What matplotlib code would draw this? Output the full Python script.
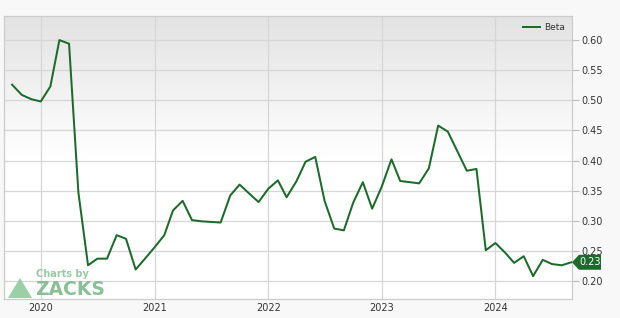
import matplotlib
matplotlib.use("Agg")
import matplotlib.pyplot as plt
import matplotlib.dates as mdates
from matplotlib.colors import LinearSegmentedColormap
from matplotlib.patches import Polygon
import numpy as np
import pandas as pd

# monthly beta values, Oct 2019 .. Sep 2024
start_month = "2019-10-01"
beta = [0.526, 0.509, 0.502, 0.498, 0.523, 0.600, 0.594, 0.347, 0.226, 0.237,
        0.237, 0.276, 0.270, 0.219, 0.237, 0.256, 0.276, 0.317, 0.333, 0.301,
        0.299, 0.298, 0.297, 0.342, 0.360, 0.345, 0.331, 0.353, 0.367, 0.339,
        0.365, 0.398, 0.406, 0.333, 0.287, 0.284, 0.330, 0.364, 0.320, 0.357,
        0.402, 0.366, 0.364, 0.362, 0.387, 0.458, 0.448, 0.415, 0.383, 0.386,
        0.251, 0.263, 0.247, 0.230, 0.241, 0.208, 0.235, 0.228, 0.226, 0.231]
last_label = "0.23"
yticks = [0.20, 0.25, 0.30, 0.35, 0.40, 0.45, 0.50, 0.55, 0.60]

dates = pd.date_range(start_month, periods=len(beta), freq="MS")

green = "#1d6b2a"
W, H = 620, 318

fig = plt.figure(figsize=(W / 100, H / 100), dpi=100, facecolor="#f8f8f8")
ax = fig.add_axes([4 / W, 1 - 299 / H, (572 - 4) / W, (299 - 16) / H])

# background gradient of the plot area
cmap = LinearSegmentedColormap.from_list("bg", ["#ffffff", "#ffffff", "#e3e3e3"])
grad = np.linspace(0, 1, 256).reshape(-1, 1)
ax.imshow(grad, extent=[0, 1, 0, 1], transform=ax.transAxes, cmap=cmap,
          aspect="auto", origin="lower", zorder=0)

ax.plot(dates, beta, color=green, lw=1.45, label="Beta", zorder=3)

ax.set_xlim(pd.Timestamp("2019-09-05"), pd.Timestamp("2024-09-03"))
ax.set_ylim(0.17, 0.64)

ax.xaxis.set_major_locator(mdates.YearLocator())
ax.xaxis.set_major_formatter(mdates.DateFormatter("%Y"))
ax.set_yticks(yticks)
ax.set_yticklabels([f"{t:.2f}" for t in yticks])
ax.yaxis.tick_right()

ax.grid(True, color="#d6d6d6", lw=0.9, zorder=1)
ax.set_axisbelow(True)
ax.tick_params(axis="x", length=0, labelsize=7, colors="#333333", pad=3)
ax.tick_params(axis="y", length=5, width=0.8, color="#bbbbbb", labelsize=7,
               labelcolor="#333333", pad=2)
for s in ax.spines.values():
    s.set_color("#cccccc")
    s.set_linewidth(0.9)

leg = ax.legend(loc="upper right", frameon=False, fontsize=6.5, handlelength=1.9,
                borderaxespad=0.35, handletextpad=0.5)
for t in leg.get_texts():
    t.set_color("#333333")

# last value tag on the right axis (pentagon pointing at the axis)
_, ypx = ax.transData.transform((mdates.date2num(dates[-1]), beta[-1]))
yc = ypx / H
xs = [572 / W, 579 / W, 601 / W, 601 / W, 579 / W]
hh = 7.5 / H
tag = Polygon([[xs[0], yc], [xs[1], yc + hh], [xs[2], yc + hh],
               [xs[3], yc - hh], [xs[4], yc - hh]], closed=True,
              transform=fig.transFigure, fc=green, ec="none", zorder=5)
fig.patches.append(tag)
fig.text(590 / W, yc, last_label, fontsize=7, color="white",
         ha="center", va="center", zorder=6)

# watermark
tri = Polygon([[8 / W, 1 - 298 / H], [32 / W, 1 - 298 / H], [20 / W, 1 - 278 / H]],
              closed=True, transform=fig.transFigure, fc="#8fcb9b", ec="none",
              alpha=0.9, zorder=4)
fig.patches.append(tri)
fig.text(35 / W, 1 - 289.5 / H, "ZACKS", fontsize=13.5, color="#7db98a",
         va="center", ha="left", fontweight="semibold", alpha=0.9)
fig.text(36 / W, 1 - 274 / H, "Charts by", fontsize=7, color="#8fc49b",
         va="center", ha="left", fontweight="bold", alpha=0.9)

fig.savefig("out.png", dpi=100, facecolor=fig.get_facecolor())
